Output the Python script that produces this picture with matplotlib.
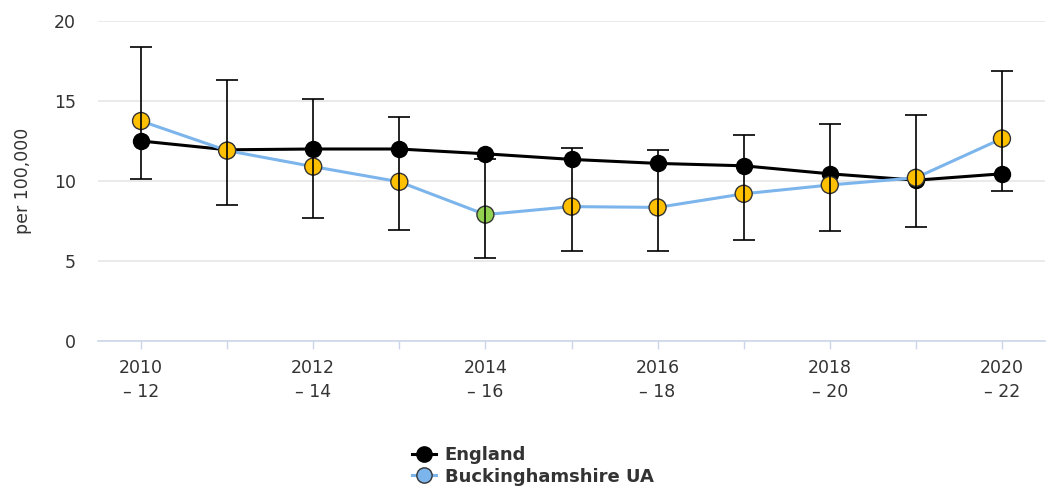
import matplotlib
matplotlib.use("Agg")
import matplotlib.pyplot as plt
from matplotlib.lines import Line2D

periods = ["2010\n– 12", "2011\n– 13", "2012\n– 14", "2013\n– 15", "2014\n– 16", "2015\n– 17",
           "2016\n– 18", "2017\n– 19", "2018\n– 20", "2019\n– 21", "2020\n– 22"]
england = [12.5, 11.95, 12.0, 12.0, 11.7, 11.35, 11.1, 10.95, 10.45, 10.05, 10.45]
bucks = [13.75, 11.9, 10.9, 9.95, 7.9, 8.4, 8.35, 9.2, 9.75, 10.2, 12.65]
bucks_lower = [10.1, 8.5, 7.7, 6.95, 5.2, 5.65, 5.65, 6.3, 6.85, 7.15, 9.35]
bucks_upper = [18.35, 16.3, 15.1, 14.0, 11.4, 12.05, 11.95, 12.9, 13.55, 14.1, 16.9]
bucks_status = ["similar", "similar", "similar", "similar", "better", "similar",
                "similar", "similar", "similar", "similar", "similar"]
status_colors = {"similar": "#FFC000", "better": "#92D050"}
yticks = [0, 5, 10, 15, 20]

plt.rcParams['font.family'] = ['DejaVu Sans']
txt = "#333333"

fig = plt.figure(figsize=(10.47, 4.88), dpi=100)
ax = fig.add_axes([98/1047, 1 - 341/488, (1045-98)/1047, (341-21)/488])

x = list(range(len(periods)))

ax.plot(x, england, color="black", lw=2.2, marker="o", ms=11.5, mfc="black", mec="black", zorder=3)
ax.plot(x, bucks, color="#7cb5ec", lw=2.2, zorder=4)
ax.scatter(x, bucks, s=150, c=[status_colors[s] for s in bucks_status],
           edgecolors="#333333", linewidths=1.0, zorder=5)
yerr = [[b - l for b, l in zip(bucks, bucks_lower)], [u - b for b, u in zip(bucks, bucks_upper)]]
ax.errorbar(x, bucks, yerr=yerr, fmt="none", ecolor="black", elinewidth=1.2,
            capsize=8, capthick=1.2, zorder=6)

ax.set_xlim(-0.5, len(periods) - 0.5)
ax.set_ylim(0, 20)
ax.set_yticks(yticks)
ax.set_yticklabels([str(v) for v in yticks], fontsize=12.5, color=txt)
ax.set_xticks(x)
ax.set_xticklabels([p if i % 2 == 0 else "" for i, p in enumerate(periods)],
                   fontsize=12.5, color=txt, linespacing=1.45)
ax.tick_params(axis="y", length=0, pad=16)
ax.tick_params(axis="x", length=6, color="#ccd6eb", width=1, pad=7)
ax.grid(axis="y", color="#e6e6e6", lw=1.2)
ax.set_axisbelow(True)
for side in ["top", "right", "left"]:
    ax.spines[side].set_visible(False)
ax.spines["bottom"].set_color("#ccd6eb")
ax.spines["bottom"].set_linewidth(1.2)
ax.set_ylabel("per 100,000", fontsize=12.5, color=txt, labelpad=16)

handles = [
    Line2D([0], [0], color="black", lw=2.2, marker="o", ms=11, mfc="black", mec="black"),
    Line2D([0], [0], color="#7cb5ec", lw=2.2, marker="o", ms=11, mfc="#7cb5ec", mec="#333333"),
]
fig.legend(handles, ["England", "Buckinghamshire UA"], loc="center",
           bbox_to_anchor=(533/1047, 1 - 466/488), frameon=False, ncol=1,
           prop={"size": 13, "weight": "bold"}, labelcolor=txt, handlelength=1.3,
           handletextpad=0.5, labelspacing=0.2, borderaxespad=0)

fig.savefig("out.png", dpi=100)
